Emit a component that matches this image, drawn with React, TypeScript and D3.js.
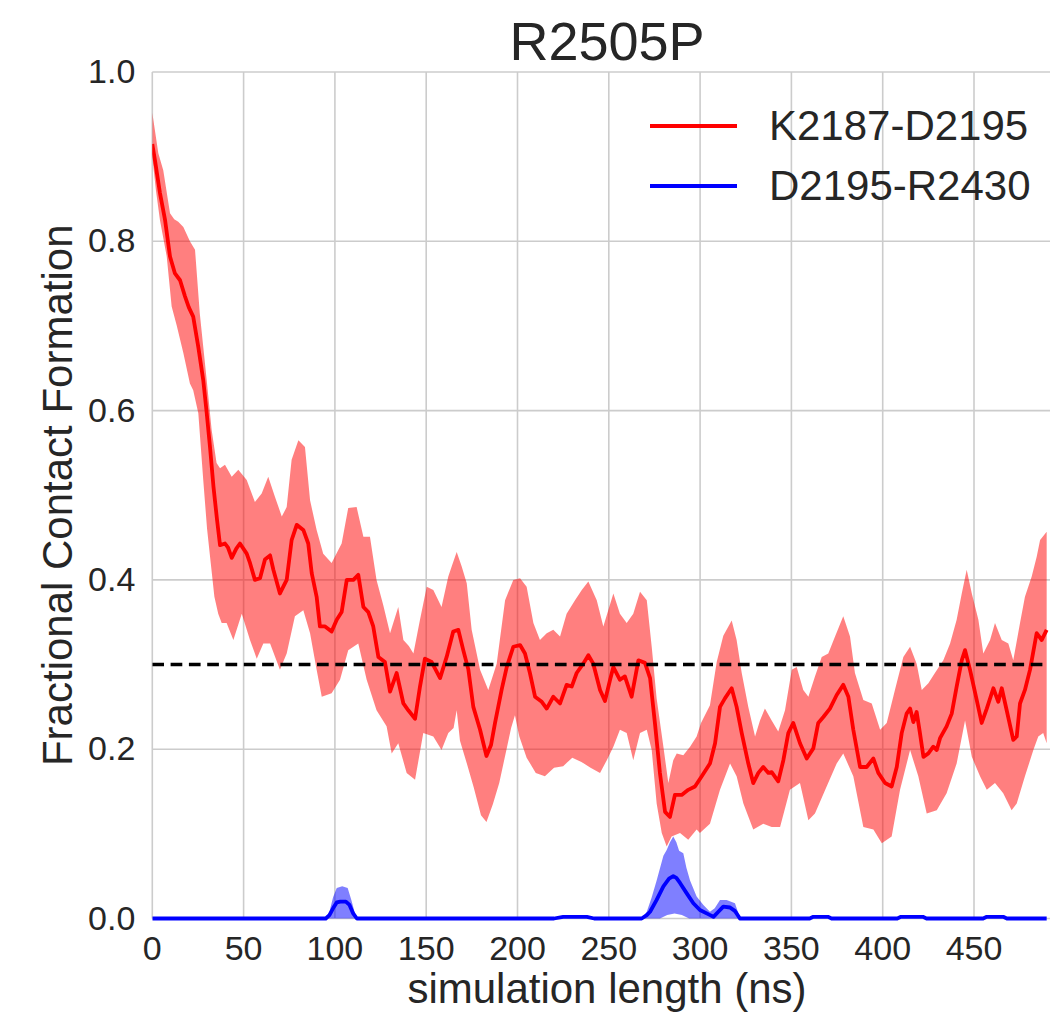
import React from "react";
import * as d3 from "d3";

const TITLE = "R2505P";
const X_LABEL = "simulation length (ns)";
const Y_LABEL = "Fractional Contact Formation";
const X_TICKS = [0, 50, 100, 150, 200, 250, 300, 350, 400, 450];
const Y_TICKS = [0, 0.2, 0.4, 0.6, 0.8, 1.0];
const THRESHOLD = 0.3;
const SERIES_NAMES = ["K2187-D2195", "D2195-R2430"];

// K2187-D2195 mean
const redMean: [number, number][] = [
  [0, 0.915], [1.5, 0.895], [4.2, 0.857], [7, 0.825], [9.7, 0.782], [12.4, 0.762], [15.2, 0.754],
  [17.9, 0.735], [20, 0.722], [22.4, 0.711], [25.2, 0.675], [27.9, 0.636], [29.8, 0.597], [31.6, 0.557],
  [33.5, 0.51], [35.5, 0.47], [37.1, 0.441], [39.8, 0.443], [41.5, 0.438], [43.5, 0.426], [46, 0.437],
  [48, 0.443], [51.7, 0.431], [53.5, 0.42], [56.2, 0.4], [59, 0.402], [61.7, 0.424], [64.5, 0.429],
  [66.3, 0.412], [69.9, 0.384], [73.6, 0.4], [76.3, 0.447], [79.1, 0.465], [82.7, 0.459], [85.4, 0.443],
  [87.3, 0.408], [90, 0.38], [91.8, 0.345], [94.6, 0.345], [98.2, 0.339], [101, 0.353], [103.7, 0.362],
  [106.5, 0.4], [110.1, 0.4], [112.8, 0.406], [115.6, 0.368], [118.3, 0.362], [121, 0.345], [123.8, 0.309],
  [127.4, 0.303], [130.2, 0.268], [133.8, 0.29], [137.5, 0.254], [140.2, 0.246], [143.9, 0.236],
  [146.6, 0.274], [149.3, 0.307], [153, 0.303], [157.6, 0.284], [161.2, 0.309], [164.8, 0.339],
  [167.6, 0.341], [170.3, 0.317], [173.1, 0.294], [175.8, 0.25], [179.5, 0.223], [183, 0.192],
  [185.5, 0.205], [187.7, 0.231], [191.3, 0.27], [194.1, 0.297], [197.7, 0.321], [201.4, 0.323],
  [204.1, 0.313], [206.8, 0.29], [209.6, 0.262], [213.3, 0.256], [216, 0.248], [219.6, 0.262],
  [223.3, 0.254], [226.9, 0.276], [229.7, 0.274], [232.4, 0.29], [236, 0.301], [238.8, 0.311],
  [241.5, 0.301], [245.2, 0.27], [247.9, 0.257], [250.7, 0.282], [252.5, 0.297], [256.1, 0.282],
  [258.8, 0.286], [262.5, 0.262], [266.2, 0.305], [269.8, 0.302], [272.6, 0.284], [275.3, 0.23],
  [278, 0.172], [280.8, 0.126], [283.5, 0.12], [286.2, 0.146], [289.9, 0.146], [293.5, 0.152],
  [297.2, 0.156], [300.9, 0.168], [305.4, 0.183], [308.2, 0.207], [310.9, 0.25], [313.6, 0.26],
  [317.3, 0.272], [320, 0.25], [322.8, 0.219], [326.4, 0.183], [329.1, 0.16], [331.9, 0.172],
  [334.6, 0.179], [337.4, 0.172], [339.2, 0.173], [342.8, 0.162], [345.6, 0.187], [348.3, 0.219],
  [351, 0.231], [354.7, 0.207], [358.4, 0.189], [362, 0.201], [364.7, 0.231], [367.5, 0.238],
  [371.1, 0.248], [374.8, 0.264], [378.4, 0.276], [381.2, 0.262], [383.9, 0.223], [387.6, 0.179],
  [391.2, 0.179], [394.9, 0.189], [397.6, 0.172], [401.3, 0.16], [404.9, 0.156], [407.7, 0.179],
  [410.4, 0.219], [413.1, 0.242], [415, 0.248], [416.8, 0.232], [418.6, 0.244], [420.4, 0.219],
  [422.3, 0.191], [425, 0.195], [427.7, 0.203], [429.6, 0.199], [431.4, 0.213], [435, 0.227],
  [437.8, 0.242], [440.5, 0.274], [443.3, 0.305], [445.1, 0.317], [447.8, 0.294], [451.5, 0.258],
  [454.2, 0.231], [457, 0.248], [460.6, 0.272], [463.3, 0.256], [465.2, 0.272], [467.9, 0.246],
  [471.5, 0.211], [473.4, 0.215], [475.2, 0.254], [477.9, 0.27], [480.7, 0.294], [484.3, 0.337],
  [487.1, 0.329], [489.8, 0.341],
];

const redUpper: [number, number][] = [
  [0, 0.952], [3.3, 0.904], [6, 0.884], [9.7, 0.833], [12, 0.826], [14.2, 0.823], [17, 0.817],
  [20.6, 0.8], [23.4, 0.79], [26, 0.715], [29.8, 0.636], [32.5, 0.577], [35.2, 0.538], [37.1, 0.532],
  [39.8, 0.536], [43.5, 0.522], [47.1, 0.53], [51.7, 0.518], [56.2, 0.492], [59.9, 0.502], [63.5, 0.522],
  [67.2, 0.498], [70.9, 0.475], [73.6, 0.486], [76.3, 0.542], [80, 0.565], [83.6, 0.557], [86.4, 0.494],
  [90, 0.459], [93.6, 0.431], [98.2, 0.42], [103.7, 0.443], [107.3, 0.485], [111.9, 0.486],
  [115.6, 0.451], [119.2, 0.451], [122.8, 0.4], [126.5, 0.37], [130.2, 0.337], [134.7, 0.368],
  [137.5, 0.329], [140.5, 0.322], [143, 0.313], [146.6, 0.353], [150.3, 0.392], [153.9, 0.388],
  [158.4, 0.368], [162.1, 0.404], [164, 0.416], [166.7, 0.433], [169.4, 0.416], [172.2, 0.396],
  [174.9, 0.341], [179.5, 0.294], [184, 0.27], [188.6, 0.301], [193.2, 0.376], [197.7, 0.4],
  [201.4, 0.402], [205, 0.392], [208.7, 0.349], [212.3, 0.329], [216, 0.337], [219.6, 0.341],
  [223.3, 0.333], [226.9, 0.36], [231.5, 0.376], [235.2, 0.388], [238.8, 0.398], [243.4, 0.376],
  [247, 0.345], [252.5, 0.384], [256.1, 0.36], [259.8, 0.349], [263.4, 0.36], [267.1, 0.386],
  [270.8, 0.376], [273.5, 0.321], [276.2, 0.26], [279.9, 0.203], [282.6, 0.16], [285.3, 0.187],
  [287.2, 0.195], [290.8, 0.193], [294.5, 0.203], [298.1, 0.215], [300.5, 0.231], [305.4, 0.252],
  [309.1, 0.303], [312.7, 0.334], [317.3, 0.352], [320, 0.329], [322.8, 0.29], [326.4, 0.25],
  [330.1, 0.215], [332.8, 0.234], [335.5, 0.248], [339.2, 0.234], [342.8, 0.221], [346.5, 0.246],
  [350.2, 0.294], [352.9, 0.297], [356.5, 0.27], [359.3, 0.262], [362.9, 0.286], [366.6, 0.309],
  [370.2, 0.313], [373.9, 0.333], [378.4, 0.357], [382.1, 0.333], [384.8, 0.29], [389.4, 0.258],
  [394, 0.254], [398.6, 0.223], [402.2, 0.231], [406.7, 0.27], [411.3, 0.309], [415, 0.321],
  [418.6, 0.301], [421.4, 0.27], [425, 0.278], [428.6, 0.29], [433.2, 0.305], [436.9, 0.325],
  [440.5, 0.353], [443.3, 0.384], [446, 0.412], [448.8, 0.384], [452.4, 0.353], [455.1, 0.313],
  [458.8, 0.329], [461.5, 0.349], [465.2, 0.329], [468.8, 0.325], [471.5, 0.305], [475.2, 0.349],
  [477.9, 0.38], [481.6, 0.404], [484.3, 0.427], [486.2, 0.447], [489.8, 0.457],
];

const redLower: [number, number][] = [
  [0, 0.9], [2, 0.86], [4.2, 0.825], [7.9, 0.782], [10.6, 0.723], [13.3, 0.701], [17, 0.668],
  [20.6, 0.632], [22.4, 0.624], [25.2, 0.597], [27.9, 0.518], [30, 0.46], [32, 0.42], [34, 0.38],
  [36.1, 0.36], [38, 0.349], [40.7, 0.349], [44.4, 0.329], [49, 0.36], [53.5, 0.329], [57.2, 0.307],
  [60.8, 0.325], [64.5, 0.325], [69.9, 0.294], [73.6, 0.313], [78.1, 0.357], [82.7, 0.364],
  [86.4, 0.337], [90, 0.294], [92.8, 0.262], [98.2, 0.266], [102.8, 0.282], [107.3, 0.317],
  [112.8, 0.325], [117.4, 0.282], [122.8, 0.246], [128.3, 0.227], [131.1, 0.195], [134.7, 0.207],
  [139.3, 0.172], [143.9, 0.164], [148.4, 0.219], [153.9, 0.215], [158.4, 0.199], [162.1, 0.219],
  [165, 0.225], [166.7, 0.246], [168.5, 0.21], [172, 0.185], [176, 0.155], [180, 0.122], [183, 0.114],
  [186.5, 0.135], [190, 0.16], [194, 0.2], [196.5, 0.225], [198.6, 0.24], [201, 0.215], [205, 0.19],
  [210, 0.172], [215, 0.168], [220, 0.178], [225, 0.18], [230, 0.19], [235, 0.185], [240, 0.178],
  [245.2, 0.172], [248.9, 0.187], [252.5, 0.203], [256.1, 0.223], [259.8, 0.219], [263.4, 0.187],
  [267.1, 0.219], [270.8, 0.223], [273.5, 0.199], [276.2, 0.136], [279, 0.101], [281.7, 0.085],
  [284.4, 0.097], [289, 0.101], [293.5, 0.093], [298.1, 0.105], [299.9, 0.101], [305.4, 0.112],
  [310.9, 0.152], [316.4, 0.183], [320, 0.168], [323.7, 0.136], [329.1, 0.105], [334.6, 0.112],
  [339.2, 0.108], [343.8, 0.108], [349.2, 0.152], [354.7, 0.16], [359.3, 0.116], [362.9, 0.124],
  [369.3, 0.156], [374.8, 0.183], [378.4, 0.195], [383.9, 0.168], [389.4, 0.108], [394.9, 0.105],
  [399.5, 0.089], [404.9, 0.097], [409.5, 0.152], [415, 0.199], [419.5, 0.168], [424.1, 0.124],
  [429.6, 0.128], [435, 0.148], [440.5, 0.183], [445.1, 0.234], [448.8, 0.191], [453.3, 0.168],
  [457, 0.152], [461.5, 0.16], [466, 0.148], [470.6, 0.128], [473.4, 0.136], [477.9, 0.168],
  [482.5, 0.199], [485.2, 0.215], [487.9, 0.219], [489.8, 0.207],
];

// D2195-R2430
const blueMean: [number, number][] = [
  [0, 0], [95, 0], [97, 0.004], [99, 0.012], [101, 0.019], [103, 0.02], [106, 0.02], [108, 0.016],
  [110, 0.006], [112, 0], [220, 0], [225, 0.002], [238, 0.002], [242, 0], [268, 0], [270.8, 0.004],
  [272.6, 0.008], [276.2, 0.022], [279.9, 0.038], [283, 0.047], [285.3, 0.05], [287, 0.048],
  [289, 0.042], [292.6, 0.03], [296.3, 0.018], [299.9, 0.01], [303.6, 0.006], [305.5, 0.004],
  [307.3, 0.002], [310, 0.008], [312.7, 0.014], [316.4, 0.013], [319, 0.009], [320, 0.006],
  [321.8, 0], [360, 0], [362, 0.002], [370, 0.002], [372, 0], [408, 0], [410, 0.002], [422, 0.002],
  [424, 0], [455, 0], [457, 0.002], [466, 0.002], [468, 0], [489.8, 0],
];

const blueUpper: [number, number][] = [
  [0, 0], [95, 0], [97, 0.008], [99, 0.025], [101, 0.036], [104, 0.038], [107, 0.036], [109, 0.022],
  [111, 0.006], [112.5, 0], [268, 0], [270.8, 0.008], [273.5, 0.025], [276.2, 0.045], [279.9, 0.074],
  [281.7, 0.081], [283.5, 0.09], [285.3, 0.097], [287, 0.09], [288.5, 0.08], [290.8, 0.077],
  [292.5, 0.06], [294.5, 0.045], [298.1, 0.026], [301.8, 0.016], [305.4, 0.008], [308, 0.012],
  [310.9, 0.022], [314.5, 0.022], [319.1, 0.018], [321, 0.006], [322, 0], [489.8, 0],
];

const blueLower: [number, number][] = [
  [0, 0], [278, 0], [282, 0.004], [286, 0.006], [290, 0.004], [294, 0], [489.8, 0],
];

const W = 1050;
const H = 1013;
const LEFT = 152.3;
const PX_PER_NS = 1.826;
const X_MAX = 498;
const TOP = 72;
const BOTTOM = 918.5;

const TEXT = "#262626";
const FONT = "'Liberation Sans', Arial, Helvetica, sans-serif";

export default function App() {
  const x = d3.scaleLinear().domain([0, X_MAX]).range([LEFT, LEFT + X_MAX * PX_PER_NS]);
  const y = d3.scaleLinear().domain([0, 1]).range([BOTTOM, TOP]);
  const right = x(X_MAX);

  const line = d3
    .line<[number, number]>()
    .x((d) => x(d[0]))
    .y((d) => y(d[1]));

  const band = (up: [number, number][], lo: [number, number][]) =>
    (line([...up, ...[...lo].reverse()]) || "") + "Z";

  const lastX = redMean[redMean.length - 1][0];
  const threshold: [number, number][] = [
    [0, THRESHOLD],
    [lastX, THRESHOLD],
  ];

  const fmt = d3.format(".1f");
  const plotCx = (LEFT + right) / 2;
  const plotCy = (TOP + BOTTOM) / 2;

  return (
    <svg
      width={W}
      height={H}
      style={{ position: "absolute", left: 0, top: 0, background: "#fff" }}
      fontFamily={FONT}
    >
      <defs>
        <clipPath id="plotclip">
          <rect x={LEFT} y={TOP} width={right - LEFT} height={BOTTOM - TOP + 4} />
        </clipPath>
      </defs>
      <rect x={0} y={0} width={W} height={H} fill="#fff" />

      {/* grid */}
      <g stroke="#cccccc" strokeWidth={1.6}>
        {X_TICKS.map((t) => (
          <line key={"gx" + t} x1={x(t)} x2={x(t)} y1={TOP} y2={BOTTOM} />
        ))}
        {Y_TICKS.map((t) => (
          <line key={"gy" + t} x1={LEFT} x2={right} y1={y(t)} y2={y(t)} />
        ))}
      </g>

      <g clipPath="url(#plotclip)">
        <path d={band(redUpper, redLower)} fill="#ff0000" fillOpacity={0.5} stroke="none" />
        <path d={line(redMean) || ""} fill="none" stroke="#ff0000" strokeWidth={3.8} strokeLinejoin="round" />
        <path d={band(blueUpper, blueLower)} fill="#0000ff" fillOpacity={0.5} stroke="none" />
        <path d={line(blueMean) || ""} fill="none" stroke="#0000ff" strokeWidth={3.8} strokeLinejoin="round" />
        <path
          d={line(threshold) || ""}
          fill="none"
          stroke="#000"
          strokeWidth={3.5}
          strokeDasharray="11.7,6.6"
        />
      </g>

      {/* y tick labels */}
      <g fill={TEXT} fontSize={34} textAnchor="end">
        {Y_TICKS.map((t) => (
          <text key={"yl" + t} x={LEFT - 17} y={y(t) + 11}>
            {fmt(t)}
          </text>
        ))}
      </g>
      {/* x tick labels */}
      <g fill={TEXT} fontSize={34} textAnchor="middle">
        {X_TICKS.map((t) => (
          <text key={"xl" + t} x={x(t)} y={BOTTOM + 41.5}>
            {t}
          </text>
        ))}
      </g>

      <text x={plotCx} y={1003} fill={TEXT} fontSize={42} textAnchor="middle">
        {X_LABEL}
      </text>
      <text
        transform={`translate(72,${plotCy}) rotate(-90)`}
        fill={TEXT}
        fontSize={42}
        textAnchor="middle"
      >
        {Y_LABEL}
      </text>
      <text x={plotCx} y={60} fill={TEXT} fontSize={54} textAnchor="middle">
        {TITLE}
      </text>

      {/* legend */}
      <g>
        {SERIES_NAMES.map((name, i) => {
          const ly = 126 + i * 60;
          const col = i === 0 ? "#ff0000" : "#0000ff";
          return (
            <g key={name}>
              <line x1={650} x2={737} y1={ly} y2={ly} stroke={col} strokeWidth={3.8} />
              <text x={769} y={ly + 14} fill={TEXT} fontSize={42}>
                {name}
              </text>
            </g>
          );
        })}
      </g>
    </svg>
  );
}
